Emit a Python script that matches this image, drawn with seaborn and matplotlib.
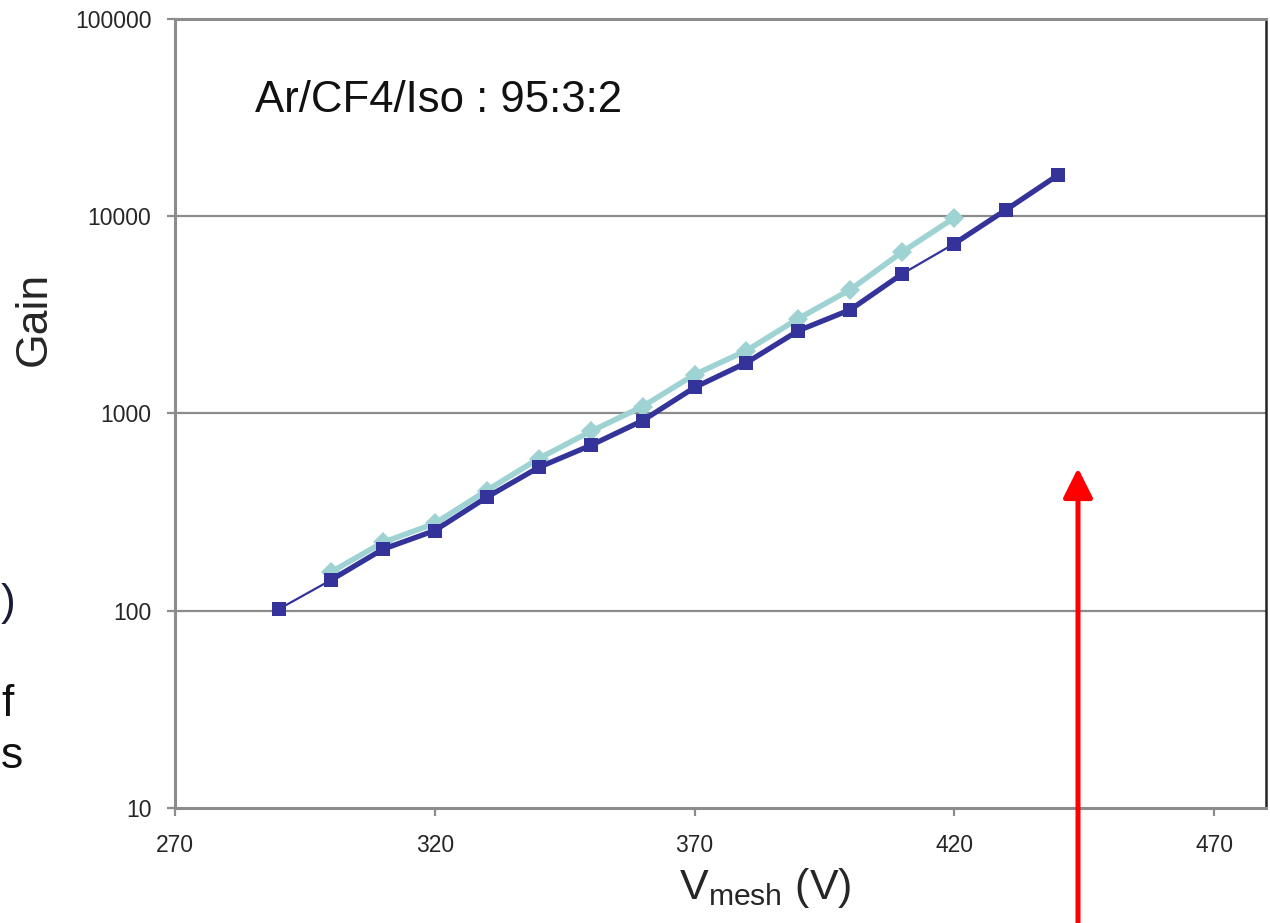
import matplotlib
matplotlib.use("Agg")
import matplotlib.pyplot as plt
import seaborn as sns
import pandas as pd

# Gain curves vs mesh voltage
voltage_dark = [290, 300, 310, 320, 330, 340, 350, 360, 370, 380, 390, 400, 410, 420, 430, 440]
gain_dark = [102, 143, 205, 255, 376, 533, 689, 920, 1355, 1810, 2630, 3360, 5110, 7260, 10800, 16200]

voltage_light = [300, 310, 320, 330, 340, 350, 360, 370, 380, 390, 400, 410, 420]
gain_light = [157, 222, 277, 407, 591, 811, 1085, 1575, 2085, 3030, 4250, 6600, 9820]

x_ticks = [270, 320, 370, 420, 470]
y_ticks = [10, 100, 1000, 10000, 100000]
y_tick_labels = ["10", "100", "1000", "10000", "100000"]

title_text = "Ar/CF4/Iso : 95:3:2"

sns.set_theme(style="white")
plt.rcParams["font.family"] = ["Liberation Sans", "DejaVu Sans"]
plt.rcParams["mathtext.fontset"] = "custom"
plt.rcParams["mathtext.rm"] = "Liberation Sans"
plt.rcParams["mathtext.it"] = "Liberation Sans"

DARK = "#333399"
LIGHT = "#9FD3D3"
GRID = "#8C8C8C"

W, H = 1270, 923
fig = plt.figure(figsize=(W / 100, H / 100), dpi=100)
ax = fig.add_axes([175 / W, 1 - 808 / H, (1266 - 175) / W, (808 - 19) / H])

df_dark = pd.DataFrame({"V": voltage_dark, "G": gain_dark})
df_light = pd.DataFrame({"V": voltage_light, "G": gain_light})

# light series (diamonds)
sns.lineplot(data=df_light, x="V", y="G", ax=ax, color=LIGHT, lw=4.0,
             marker="D", markersize=10, markeredgewidth=0, sort=False, zorder=3)

# dark series: thin connector over all points, thick over most segments
sns.lineplot(data=df_dark, x="V", y="G", ax=ax, color=DARK, lw=1.6, sort=False, zorder=4)
sns.lineplot(data=df_dark.iloc[1:13], x="V", y="G", ax=ax, color=DARK, lw=3.8,
             sort=False, zorder=4)
sns.lineplot(data=df_dark.iloc[13:], x="V", y="G", ax=ax, color=DARK, lw=3.8,
             sort=False, zorder=4)
sns.scatterplot(data=df_dark, x="V", y="G", ax=ax, color=DARK, marker="s", s=90,
                linewidth=0, zorder=5)

ax.set_yscale("log")
ax.set_xlim(270, 480)
ax.set_ylim(10, 100000)
ax.set_yticks(y_ticks, y_tick_labels)
ax.set_xticks(x_ticks, [str(v) for v in x_ticks])
ax.minorticks_off()

ax.grid(False)
for yv in y_ticks[1:-1]:
    ax.axhline(yv, color=GRID, lw=1.6, zorder=1)

for side in ["left", "top", "bottom"]:
    ax.spines[side].set_color(GRID)
    ax.spines[side].set_linewidth(2.2)
ax.spines["right"].set_color("#222222")
ax.spines["right"].set_linewidth(1.8)

ax.tick_params(axis="y", which="major", direction="out", length=6, width=1.6,
               color=GRID, labelsize=16.5, pad=11, left=True)
ax.tick_params(axis="x", which="major", direction="out", length=6, width=1.6,
               color=GRID, labelsize=16.5, pad=13, bottom=True)

ax.set_xlabel(r"V$_{\mathrm{mesh}}$ (V)", fontsize=31)
ax.xaxis.set_label_coords((765 - 175) / 1091, (808 - 866) / 790)
ax.set_ylabel("Gain", fontsize=32)
ax.yaxis.set_label_coords((34 - 175) / 1091, (808 - 318) / 790)
ax.yaxis.label.set_verticalalignment("center")

ax.text((255 - 175) / 1091, (808 - 100) / 790, title_text, transform=ax.transAxes,
        fontsize=31.5, ha="left", va="center", color="#111111")

# side text along the left edge
fig.text(1 / W, 1 - 603 / H, ")", fontsize=32, ha="left", va="center", color="#1a1a3a")
fig.text(1 / W, 1 - 705 / H, "f", fontsize=32, ha="left", va="center", color="#111111")
fig.text(1 / W, 1 - 757 / H, "s", fontsize=32, ha="left", va="center", color="#111111")

# red pointer arrow
ax.annotate("", xy=(1078, H - 468), xycoords="figure pixels",
            xytext=(1078, -10), textcoords="figure pixels",
            arrowprops=dict(arrowstyle="-|>,head_length=0.9,head_width=0.45",
                            color="#FF0000", lw=3.6, mutation_scale=20,
                            shrinkA=0, shrinkB=0),
            annotation_clip=False, zorder=10)

fig.savefig("out.png", dpi=100)
